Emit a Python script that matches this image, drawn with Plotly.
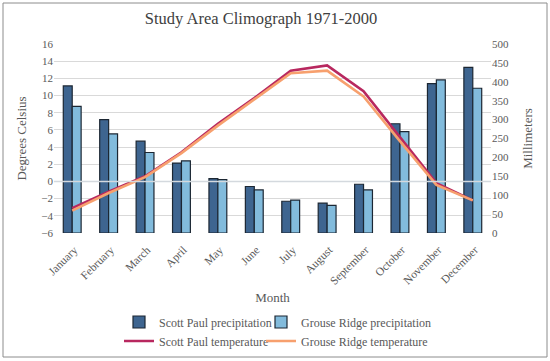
import plotly.graph_objects as go

months = ["January", "February", "March", "April", "May", "June", "July",
          "August", "September", "October", "November", "December"]
sp_precip = [389, 300, 243, 185, 144, 123, 84, 79, 129, 289, 395, 438]
gr_precip = [335, 262, 213, 191, 141, 114, 87, 73, 114, 268, 405, 383]
sp_temp = [-3.1, -1.2, 0.6, 3.4, 6.7, 9.7, 12.9, 13.5, 10.5, 5.2, -0.2, -2.2]
gr_temp = [-3.4, -1.35, 0.5, 3.3, 6.5, 9.5, 12.6, 12.9, 9.9, 4.7, -0.4, -2.2]
left_ticks = list(range(-6, 17, 2))
right_ticks = list(range(0, 501, 50))

FONT = "Liberation Serif"
GRAY = "#595959"

def f(size, color=GRAY):
    return dict(family=FONT, size=size, color=color)

fig = go.Figure()
fig.add_trace(go.Bar(x=months, y=sp_precip, name="Scott Paul precipitation",
                     marker=dict(color="#3e6590", line=dict(color="#1c2733", width=1.2)),
                     yaxis="y", legend="legend"))
fig.add_trace(go.Bar(x=months, y=gr_precip, name="Grouse Ridge precipitation",
                     marker=dict(color="#82bbdc", line=dict(color="#1c2733", width=1.2)),
                     yaxis="y", legend="legend2"))
fig.add_trace(go.Scatter(x=months, y=sp_temp, name="Scott Paul temperature",
                         mode="lines", line=dict(color="#b8285f", width=2.6),
                         yaxis="y2", legend="legend3"))
fig.add_trace(go.Scatter(x=months, y=gr_temp, name="Grouse Ridge temperature",
                         mode="lines", line=dict(color="#f7a06e", width=2.6),
                         yaxis="y2", legend="legend4"))

L, R, T, B = 54, 59, 44, 128
W, H = 550, 361
pw, ph = W - L - R, H - T - B

def px2x(px):
    return (px - L) / pw

def py2y(py):
    return (H - B - py) / ph

def leg(xp, yp):
    return dict(orientation="h", x=px2x(xp), xanchor="left", y=py2y(yp), yanchor="middle",
                font=f(12), bgcolor="rgba(0,0,0,0)", borderwidth=0)

fig.update_layout(
    width=W, height=H,
    margin=dict(l=L, r=R, t=T, b=B, autoexpand=False),
    paper_bgcolor="white", plot_bgcolor="white",
    font=f(11),
    title=dict(text="Study Area Climograph 1971-2000", x=261 / W, xanchor="center",
               y=1 - 18 / H, yanchor="middle", automargin=False,
               font=f(16.5, "#404040")),
    barmode="group", bargap=0.51, bargroupgap=0,
    showlegend=True,
    hovermode=False,
    xaxis=dict(tickangle=-45, showgrid=False, showline=False, ticks="", automargin=False,
               tickfont=f(11.5), ticklabelstandoff=7, ticklabelshift=2,
               title=dict(text="Month", font=f(13), standoff=6)),
    yaxis=dict(side="right", range=[0, 500], tickvals=right_ticks, showgrid=False,
               zeroline=False, ticks="", automargin=False, tickfont=f(11),
               title=dict(text="Millimeters", font=f(13), standoff=14)),
    yaxis2=dict(side="left", overlaying="y", range=[-6, 16], tickvals=left_ticks,
                showgrid=True, gridcolor="#d9d9d9", gridwidth=1, zeroline=False,
                ticks="", automargin=False, tickfont=f(11),
                title=dict(text="Degrees Celsius", font=f(13), standoff=11)),
    legend=leg(119, 322),
    legend2=leg(261, 322),
    legend3=leg(119, 341),
    legend4=leg(261, 341),
    shapes=[
        dict(type="line", xref="paper", yref="y2", x0=0, x1=1, y0=0, y1=0,
             line=dict(color="#d4d9de", width=1.5), layer="above"),
        dict(type="rect", xref="paper", yref="paper",
             x0=px2x(3), x1=px2x(547), y0=py2y(3), y1=py2y(357),
             line=dict(color="#8c8c8c", width=1), layer="below"),
    ],
)

fig.write_html("out.html", config={"displayModeBar": False, "staticPlot": False},
               post_script="document.body.style.margin='0';document.body.style.overflow='hidden';")
